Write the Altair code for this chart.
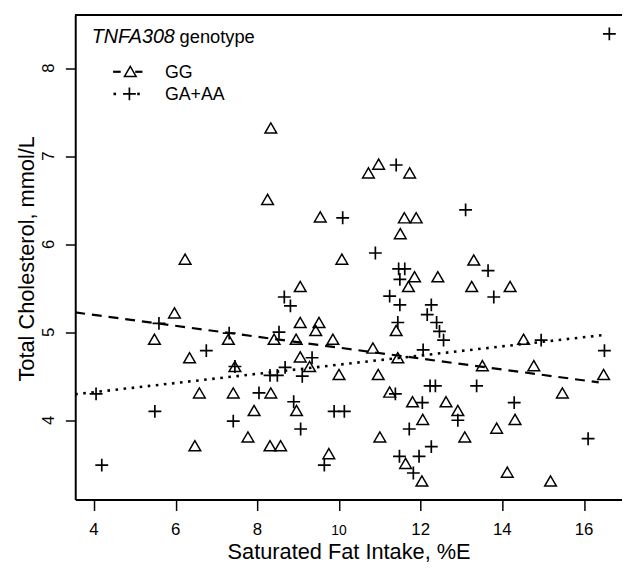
import altair as alt
import pandas as pd

# ---- data ----
gg_x = [8.33, 8.25, 9.54, 6.23, 10.07, 10.72, 10.97, 11.73, 11.60, 11.89,
        11.50, 13.30, 11.85, 12.42, 11.70, 9.05, 13.25, 14.19, 9.05, 9.51,
        9.43, 11.40, 5.97, 5.48, 7.29, 8.41, 8.95, 9.85, 14.52, 10.83,
        9.05, 6.34, 11.44, 9.28, 7.45, 13.51, 14.77, 10.00, 10.96, 16.48,
        6.58, 7.41, 8.33, 11.24, 15.47, 11.80, 12.62, 7.92, 8.96, 12.91,
        12.05, 14.31, 13.86, 7.77, 11.00, 13.08, 6.47, 8.31, 8.57, 9.75,
        11.63, 12.03, 14.12, 15.18]
gg_y = [7.32, 6.51, 6.31, 5.83, 5.83, 6.81, 6.91, 6.81, 6.30, 6.30,
        6.12, 5.82, 5.63, 5.63, 5.52, 5.52, 5.52, 5.52, 5.11, 5.11,
        5.02, 5.02, 5.22, 4.92, 4.92, 4.92, 4.92, 4.92, 4.92, 4.82,
        4.72, 4.71, 4.71, 4.61, 4.61, 4.62, 4.62, 4.52, 4.52, 4.52,
        4.31, 4.31, 4.31, 4.32, 4.31, 4.21, 4.21, 4.11, 4.11, 4.11,
        4.01, 4.01, 3.91, 3.81, 3.81, 3.81, 3.71, 3.71, 3.71, 3.62,
        3.51, 3.31, 3.41, 3.31]

ga_x = [16.62, 11.40, 10.09, 13.10, 10.89, 13.65, 11.46, 11.61, 11.49, 8.66,
        8.81, 11.24, 13.79, 11.49, 12.26, 12.16, 12.39, 11.44, 5.59, 7.31,
        8.53, 12.46, 12.56, 14.95, 12.06, 16.50, 6.75, 9.34, 7.45, 8.68,
        8.31, 8.49, 9.10, 12.23, 12.36, 13.37, 4.05, 8.04, 11.38, 8.89,
        12.04, 14.29, 5.49, 9.88, 10.13, 12.91, 7.41, 9.06, 11.72, 16.10,
        12.26, 11.48, 11.96, 9.64, 4.19, 11.82]
ga_y = [8.39, 6.90, 6.30, 6.39, 5.90, 5.70, 5.72, 5.72, 5.60, 5.40,
        5.30, 5.41, 5.40, 5.31, 5.31, 5.20, 5.11, 5.11, 5.10, 4.99,
        5.00, 5.01, 4.91, 4.91, 4.80, 4.79, 4.79, 4.71, 4.61, 4.60,
        4.51, 4.51, 4.50, 4.39, 4.39, 4.39, 4.30, 4.31, 4.30, 4.21,
        4.20, 4.20, 4.10, 4.10, 4.10, 4.00, 3.99, 3.90, 3.90, 3.79,
        3.70, 3.59, 3.59, 3.49, 3.49, 3.40]

# fitted lines (end points)
fit_gg_x = [3.54, 16.36]
fit_gg_y = [5.225, 4.43]
fit_ga_x = [3.54, 16.51]
fit_ga_y = [4.295, 4.97]

x_ticks = [4, 6, 8, 10, 12, 14, 16]
y_ticks = [4, 5, 6, 7, 8]
x_domain = [3.54, 16.93]
y_domain = [3.098, 8.603]

legend_title_italic = "TNFA308"
legend_title_rest = "genotype"
legend_labels = ["GG", "GA+AA"]
x_title = "Saturated Fat Intake, %E"
y_title = "Total Cholesterol, mmol/L"

# ---- chart ----
FONT = "Liberation Sans"
W, H = 553, 490

gg = pd.DataFrame({"x": gg_x, "y": gg_y})
ga = pd.DataFrame({"x": ga_x, "y": ga_y})
fgg = pd.DataFrame({"x": fit_gg_x, "y": fit_gg_y})
fga = pd.DataFrame({"x": fit_ga_x, "y": fit_ga_y})

xs = alt.Scale(domain=x_domain, nice=False, zero=False)
ys = alt.Scale(domain=y_domain, nice=False, zero=False)

x_axis = alt.Axis(
    values=x_ticks, labels=False, title=x_title, grid=False, tickSize=11,
    titleFontSize=22, titleFontWeight="normal", titleY=60,
    titleBaseline="alphabetic", domainWidth=2, tickWidth=1.5,
)
y_axis = alt.Axis(
    values=y_ticks, labels=False, title=y_title, grid=False, tickSize=10,
    titleFontSize=22, titleFontWeight="normal", titleAngle=270,
    titleAlign="center", titleBaseline="alphabetic", titleX=-42.7, titleY=246,
    domainWidth=2, tickWidth=1.5,
)

def X():
    return alt.X("x:Q", scale=xs, axis=x_axis)

def Y():
    return alt.Y("y:Q", scale=ys, axis=y_axis)

pts_gg = alt.Chart(gg).mark_point(
    shape="triangle-up", size=140, filled=False, color="black",
    strokeWidth=1.5, opacity=1,
).encode(x=X(), y=Y())

PLUS = "M-1,0L1,0M0,-1L0,1"
pts_ga = alt.Chart(ga).mark_point(
    shape=PLUS, size=169, filled=False, color="black", strokeWidth=1.7, opacity=1,
).encode(x=X(), y=Y())

line_gg = alt.Chart(fgg).mark_line(
    color="black", strokeDash=[10, 7], strokeWidth=2.2, strokeCap="butt"
).encode(x=X(), y=Y())

line_ga = alt.Chart(fga).mark_line(
    color="black", strokeDash=[2.6, 5.6], strokeWidth=2.6, strokeCap="butt"
).encode(x=X(), y=Y())

# tick labels drawn as text through the scales
xlab = alt.Chart(pd.DataFrame({"x": x_ticks})).mark_text(
    align="center", baseline="alphabetic", font=FONT, color="black"
).encode(
    x=X(), y=alt.value(H + 35.7),
    text=alt.Text("x:Q", format="d"),
    size=alt.condition("datum.x == 10", alt.value(14), alt.value(17)),
)
ylab = alt.Chart(pd.DataFrame({"y": y_ticks})).mark_text(
    align="center", baseline="alphabetic", font=FONT, fontSize=17, angle=270,
    color="black",
).encode(x=alt.value(-21), y=Y(), text=alt.Text("y:Q", format="d"))

# top frame line
top_rule = alt.Chart(gg).mark_rule(color="black", strokeWidth=2).encode(
    x=alt.value(0), x2=alt.value(W), y=alt.value(0)
)

# manual legend
def text_layer(txt, x, y, size=18, style="normal"):
    return alt.Chart(pd.DataFrame({"t": [txt]})).mark_text(
        align="left", baseline="alphabetic", font=FONT, fontSize=size,
        fontStyle=style, color="black",
    ).encode(x=alt.value(x), y=alt.value(y), text="t:N")

leg_t1 = text_layer(legend_title_italic, 16.7, 28.7, 20, "italic")
leg_t2 = text_layer(legend_title_rest, 105.5, 28.7, 18.5)
leg_l1 = text_layer(legend_labels[0], 90.7, 64, 18)
leg_l2 = text_layer(legend_labels[1], 90.7, 86.3, 18)

one = pd.DataFrame({"k": [0]})
leg_dash1 = alt.Chart(one).mark_rule(color="black", strokeWidth=2.2).encode(
    x=alt.value(38.3), x2=alt.value(46), y=alt.value(57.3))
leg_dash2 = alt.Chart(one).mark_rule(color="black", strokeWidth=2.2).encode(
    x=alt.value(60.7), x2=alt.value(68), y=alt.value(57.3))
leg_tri = alt.Chart(one).mark_point(
    shape="triangle-up", size=140, filled=False, color="black", strokeWidth=1.5, opacity=1
).encode(x=alt.value(55.7), y=alt.value(57))
leg_dot1 = alt.Chart(one).mark_rule(color="black", strokeWidth=2.6).encode(
    x=alt.value(38.7), x2=alt.value(41.3), y=alt.value(79.7))
leg_dot2 = alt.Chart(one).mark_rule(color="black", strokeWidth=2.6).encode(
    x=alt.value(62.7), x2=alt.value(65.3), y=alt.value(79.7))
leg_plus = alt.Chart(one).mark_point(
    shape=PLUS, size=169, filled=False, color="black", strokeWidth=1.7, opacity=1
).encode(x=alt.value(54.8), y=alt.value(79.7))

chart = alt.layer(
    pts_gg, pts_ga, line_gg, line_ga, xlab, ylab, top_rule,
    leg_t1, leg_t2, leg_l1, leg_l2,
    leg_dash1, leg_dash2, leg_tri, leg_dot1, leg_dot2, leg_plus,
).properties(
    width=W, height=H,
    autosize=alt.AutoSizeParams(type="none"),
    padding={"left": 68, "top": 4, "right": 0, "bottom": 68},
    background="white",
).configure_view(stroke=None).configure_axis(
    domainColor="black", tickColor="black", titleColor="black", titleFont=FONT,
)

chart.save("out.html", embed_options={"renderer": "svg", "actions": False})
